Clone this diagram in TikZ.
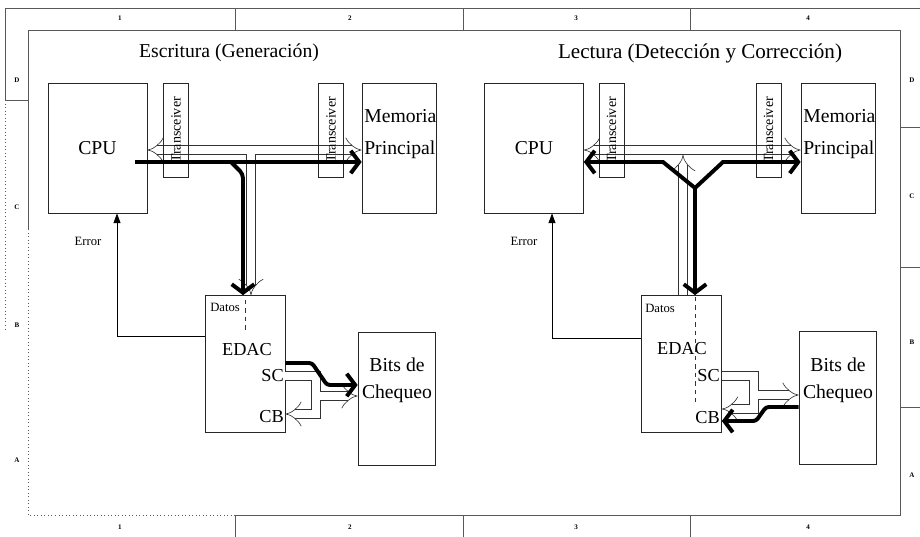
\documentclass[tikz,border=0pt]{standalone}
\usepackage{fontspec}
\setmainfont{Liberation Serif}
\usetikzlibrary{arrows.meta}

\begin{document}
\begin{tikzpicture}[x=0.025cm, y=-0.025cm,
  >={Straight Barb[length=6pt, width=16pt]},
  box/.style={rectangle, draw=black!85, line width=0.5pt, inner sep=0pt,
              font=\fontsize{14}{17}\selectfont},
  cpu/.style={box, minimum width=2.475cm, minimum height=3.25cm},
  mem/.style={box, minimum width=1.85cm, minimum height=3.25cm},
  edac/.style={box, minimum width=2cm, minimum height=3.425cm},
  chk/.style={box, minimum width=1.925cm, minimum height=3.325cm},
  trx/.style={box, rotate=90, minimum width=2.35cm, minimum height=0.625cm,
              font=\fontsize{10}{12}\selectfont},
  big/.style={font=\fontsize{14}{17}\selectfont, inner sep=0pt},
  mid/.style={font=\fontsize{13}{15}\selectfont, inner sep=0pt},
  lab/.style={font=\fontsize{9}{11}\selectfont, inner sep=0pt},
  zone/.style={font=\fontsize{5}{6}\selectfont\bfseries, inner sep=0pt},
  frm/.style={draw=black!65, line width=0.5pt},
  hol/.style={draw=black!80, line width=0.45pt, double=white, double distance=6pt},
  gap/.style={draw=white, line width=6pt},
  thk/.style={draw=black, line width=2.8pt, ->},
  err/.style={draw=black, line width=0.6pt, -{Triangle[length=7pt, width=5pt]}},
  dsh/.style={draw=black!80, line width=0.5pt, dashed},
]
\useasboundingbox (0,0) rectangle (920,537);

% frame
\draw[frm] (5,100) -- (5,8) -- (920,8);
\draw[frm, dotted] (5,100) -- (5,330);
\draw[frm] (5,100) -- (28,100);
\draw[frm] (235,8) -- (235,30) (463,8) -- (463,30) (690,8) -- (690,30);
\draw[frm] (28,230) -- (28,30) -- (900,30) -- (900,515) -- (235,515);
\draw[frm, dotted] (235,515) -- (28,515) -- (28,230);
\draw[frm] (235,515) -- (235,537) (463,515) -- (463,537) (690,515) -- (690,537);
\draw[frm] (900,127) -- (920,127) (900,267) -- (920,267) (900,407) -- (920,407);
\node[zone] (zt1) at (120,18) {1};  \node[zone] (zt2) at (350,18) {2};
\node[zone] (zt3) at (576,18) {3};  \node[zone] (zt4) at (808,18) {4};
\node[zone] (zb1) at (120,527) {1}; \node[zone] (zb2) at (350,527) {2};
\node[zone] (zb3) at (576,527) {3}; \node[zone] (zb4) at (808,527) {4};
\node[zone] (zrD) at (912,80) {D};  \node[zone] (zrC) at (912,196) {C};
\node[zone] (zrB) at (912,342) {B}; \node[zone] (zrA) at (912,475) {A};
\node[zone] (zlD) at (17,80) {D};   \node[zone] (zlC) at (17,207) {C};
\node[zone] (zlB) at (17,325) {B};  \node[zone] (zlA) at (17,460) {A};

% escritura (generacion)
\node[font=\fontsize{14}{16}\selectfont, inner sep=0pt] (ttlE) at (229,53) {Escritura (Generación)};
\node[cpu] (cpuE) at (97.5,148) {CPU};
\node[mem] (memE) at (399,148) {};
\node[big, align=left, anchor=west] (memEt) at (364,134) {Memoria\\[6pt]Principal};
\node[edac] (edacE) at (245,364) {};
\node[chk] (chkE) at (396.5,398.5) {};
\node[big, align=center] (chkEt) at (397,380) {Bits de\\[2pt]Chequeo};
\node[lab, anchor=west] (datE) at (210,307) {Datos};
\node[mid] (edtE) at (247,350) {EDAC};
\node[mid, anchor=east] (scE) at (284,376) {SC};
\node[mid, anchor=east] (cbE) at (284,417) {CB};
\node[lab] (errEt) at (88,241) {Error};
\coordinate (busE) at (0,150);
\coordinate (vE) at (251,150);
\coordinate (jE) at (316,0);
\coordinate (cbhE) at (0,414);
\coordinate (kE) at (316,396);
\draw[hol, {Implies}-{Implies}] (cpuE.east |- busE) -- (memE.west |- busE);
\draw[hol, -{Implies}] (vE) -- (vE |- edacE.north);
\draw[hol, -{Implies}] (edacE.east |- scE) -- (jE |- scE) -- (jE |- cbhE) -- (edacE.east |- cbhE);
\draw[hol, -{Implies}] (kE) -- (chkE.west |- kE);
\draw[gap] (244,150) -- (258,150) (vE) -- ++(0,8);
\draw[gap] (316,390) -- (316,402) (kE) -- ++(8,0);
\node[trx] (trAE) at (176,130) {Transceiver};
\node[trx] (trBE) at (331,130) {Transceiver};
\draw[dsh] (245,300) -- (245,330);
\coordinate (dE0) at (135,162);
\coordinate (dE1) at (231,162);
\coordinate (dE2) at (243,174);
\draw[thk] (dE0) -- (memE.west |- dE0);
\draw[thk, rounded corners=3pt] (dE1) -- (dE2) -- (dE2 |- edacE.north);
\coordinate (tE1) at (312,363);
\coordinate (tE2) at (327,385);
\draw[thk, rounded corners=2pt] (edacE.east |- tE1) -- (tE1) -- (tE2) -- (chkE.west |- tE2);
\coordinate (erE) at (117,336);
\draw[err] (edacE.west |- erE) -| (cpuE.south -| erE);

% lectura (deteccion y correccion)
\node[font=\fontsize{15}{17}\selectfont, inner sep=0pt] (ttlL) at (700,53) {Lectura (Detección y Corrección)};
\node[cpu] (cpuL) at (534,148) {CPU};
\node[mem] (memL) at (838,148) {};
\node[big, align=left, anchor=west] (memLt) at (803,134) {Memoria\\[6pt]Principal};
\node[edac] (edacL) at (681.5,364) {};
\node[chk] (chkL) at (837.5,398) {};
\node[big, align=center] (chkLt) at (838,380) {Bits de\\[2pt]Chequeo};
\node[lab, anchor=west] (datL) at (645,308) {Datos};
\node[mid] (edtL) at (682,349) {EDAC};
\node[mid, anchor=east] (scL) at (720,376) {SC};
\node[mid, anchor=east] (cbL) at (720,418) {CB};
\node[lab] (errLt) at (524,241) {Error};
\coordinate (busL) at (0,150);
\coordinate (vL) at (683,155);
\coordinate (jL) at (754,0);
\coordinate (cbhL) at (0,409);
\coordinate (kL) at (754,395);
\draw[hol, {Implies}-{Implies}] (cpuL.east |- busL) -- (memL.west |- busL);
\draw[hol, -{Implies}] (vL |- edacL.north) -- (vL);
\draw[hol, -{Implies}] (edacL.east |- scL) -- (jL |- scL) -- (jL |- cbhL) -- (edacL.east |- cbhL);
\draw[hol, -{Implies}] (kL) -- (chkL.west |- kL);
\draw[gap] (754,389) -- (754,401) (kL) -- ++(8,0);
\node[trx] (trAL) at (611.5,130) {Transceiver};
\node[trx] (trBL) at (768.5,130) {Transceiver};
\draw[dsh] (695,297) -- (695,405);
\coordinate (dL) at (0,162);
\coordinate (yL1) at (663,162);
\coordinate (yL0) at (695,188);
\coordinate (yL2) at (723,162);
\draw[thk, <->] (cpuL.east |- dL) -- (yL1) -- (yL0) -- (yL2) -- (memL.west |- dL);
\draw[thk] (yL0) -- (yL0 |- edacL.north);
\coordinate (tL1) at (766,407);
\coordinate (tL2) at (756,421);
\draw[thk, rounded corners=2pt] (chkL.west |- tL1) -- (tL1) -- (tL2) -- (edacL.east |- tL2);
\coordinate (erL) at (552,338);
\draw[err] (edacL.west |- erL) -| (cpuL.south -| erL);
\end{tikzpicture}
\end{document}
